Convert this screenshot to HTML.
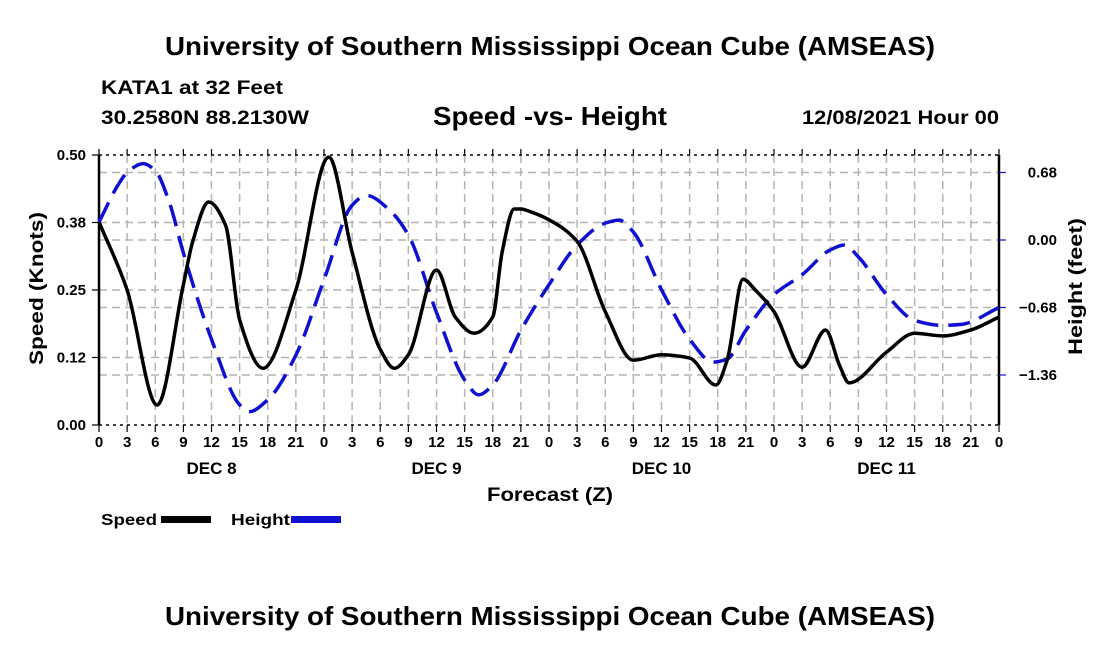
<!DOCTYPE html>
<html><head><meta charset="utf-8"><style>
body{margin:0;background:#fff;width:1100px;height:650px;overflow:hidden;font-family:"Liberation Sans",Arial,sans-serif}
svg text{font-family:"Liberation Sans",Arial,sans-serif;font-weight:bold;fill:#000}
</style></head><body>
<svg id="c" width="1100" height="650">
<text x="165" y="55" font-size="26" textLength="770" lengthAdjust="spacingAndGlyphs">University of Southern Mississippi Ocean Cube (AMSEAS)</text>
<text x="101" y="94" font-size="19" textLength="182" lengthAdjust="spacingAndGlyphs">KATA1 at 32 Feet</text>
<text x="101" y="124" font-size="19" textLength="208" lengthAdjust="spacingAndGlyphs">30.2580N  88.2130W</text>
<text x="433" y="125" font-size="26" textLength="234" lengthAdjust="spacingAndGlyphs">Speed -vs- Height</text>
<text x="802" y="124" font-size="19" textLength="197" lengthAdjust="spacingAndGlyphs">12/08/2021 Hour 00</text>
<text x="165" y="625" font-size="26" textLength="770" lengthAdjust="spacingAndGlyphs">University of Southern Mississippi Ocean Cube (AMSEAS)</text>
<text x="487" y="501" font-size="19" textLength="126" lengthAdjust="spacingAndGlyphs">Forecast (Z)</text>
<text transform="translate(43,365) rotate(-90)" font-size="19" textLength="153" lengthAdjust="spacingAndGlyphs">Speed (Knots)</text>
<text transform="translate(1082,355) rotate(-90)" font-size="19" textLength="137" lengthAdjust="spacingAndGlyphs">Height (feet)</text>
<g id="grid"></g><g id="axes"></g><g id="series"></g>
<text x="101" y="525" font-size="16" textLength="56" lengthAdjust="spacingAndGlyphs">Speed</text>
<rect x="161" y="516" width="50" height="7" fill="#000"/>
<text x="231" y="525" font-size="16" textLength="59" lengthAdjust="spacingAndGlyphs">Height</text>
<rect x="291" y="516" width="50" height="7" fill="#1010d0"/>
</svg>
<script>
const speedHours=[0,3,6.2,9,10,11.7,13.5,15,17.5,21,24.5,27,30,31.5,33,36,38,40,42,43,44.3,45,46,48,51,54,57,60,63,65.8,67,68.7,70,72,75,77.5,79,80,84,87,90,93,96];
const speedVals=[0.376,0.25,0.037,0.26,0.34,0.413,0.37,0.195,0.105,0.25,0.496,0.32,0.14,0.105,0.13,0.287,0.2,0.17,0.2,0.32,0.40,0.40,0.395,0.38,0.34,0.21,0.12,0.13,0.124,0.074,0.12,0.27,0.25,0.21,0.107,0.176,0.11,0.078,0.135,0.17,0.165,0.176,0.2];
const heightHours=[0,2,3,4.7,6,7.5,9,12,15,16,18,21,24,27,28.5,31,33,36,39,40.5,42,45,48,51,54,55.5,57,60,63,65.5,67,69,72,75,78,79.5,81,84,87,90,92,96];
const heightVals=[0.18,0.55,0.68,0.77,0.7,0.38,-0.13,-1.0,-1.66,-1.73,-1.61,-1.16,-0.4,0.35,0.45,0.3,0.05,-0.73,-1.41,-1.56,-1.46,-0.91,-0.45,-0.05,0.17,0.2,0.08,-0.5,-1.0,-1.23,-1.2,-0.91,-0.55,-0.35,-0.1,-0.05,-0.17,-0.55,-0.81,-0.86,-0.85,-0.68];
const xTickLabels=["0","3","6","9","12","15","18","21"];
const dayLabels=["DEC 8","DEC 9","DEC 10","DEC 11"];
const leftTicks=[0,0.125,0.25,0.375,0.5];
const leftTickLabels=["0.00","0.12","0.25","0.38","0.50"];
const rightTicks=[0.68,0,-0.68,-1.36];
const rightTickLabels=["0.68","0.00","\u22120.68","\u22121.36"];
const X0=99,X1=999,Y0=155,Y1=425;
const x=h=>X0+(X1-X0)*h/96;
const yS=v=>Y1-(Y1-Y0)*v/0.5;
const yH=v=>240-v*99.26;
const NS="http://www.w3.org/2000/svg";
function mk(p,t,a){const e=document.createElementNS(NS,t);for(const k in a)e.setAttribute(k,a[k]);p.appendChild(e);return e;}
const grid=document.getElementById('grid'),axes=document.getElementById('axes'),ser=document.getElementById('series');
for(let h=3;h<96;h+=3){const l=mk(grid,'line',{x1:x(h),x2:x(h),y1:Y0,y2:Y1,stroke:'#b4b4b4','stroke-width':1.5,'stroke-dasharray':'8,5'});

}
leftTicks.slice(1,4).forEach(v=>{const l=mk(grid,'line',{x1:X0,x2:X1,y1:yS(v),y2:yS(v),stroke:'#b4b4b4','stroke-width':1.5,'stroke-dasharray':'8,5'});

});
rightTicks.forEach(v=>{const l=mk(grid,'line',{x1:X0,x2:X1,y1:yH(v),y2:yH(v),stroke:'#b4b4b4','stroke-width':1.5,'stroke-dasharray':'8,5'});

});
let f=mk(axes,'line',{x1:X0,x2:X0,y1:Y0,y2:Y1,stroke:'#000','stroke-width':2.5});

f=mk(axes,'line',{x1:X1,x2:X1,y1:Y0,y2:Y1,stroke:'#000','stroke-width':2.5});

f=mk(axes,'line',{x1:X0,x2:X1,y1:Y0,y2:Y0,stroke:'#000','stroke-width':1.5,'stroke-dasharray':'3,4'});

f=mk(axes,'line',{x1:X0,x2:X1,y1:Y1,y2:Y1,stroke:'#000','stroke-width':1.5,'stroke-dasharray':'3,4'});

for(let h=0;h<=96;h+=3){
 mk(axes,'line',{x1:x(h),x2:x(h),y1:Y1,y2:Y1+7,stroke:'#000','stroke-width':1.2});
 mk(axes,'line',{x1:x(h),x2:x(h),y1:Y0,y2:Y0-6,stroke:'#000','stroke-width':1.2});
 const t=mk(axes,'text',{x:x(h),y:447,'font-size':15,'text-anchor':'middle'});
 t.textContent=xTickLabels[(h/3)%8];
 
 }
dayLabels.forEach((d,i)=>{const t=mk(axes,'text',{x:x(12+24*i),y:474,'font-size':17,'text-anchor':'middle'});t.textContent=d;

});
leftTicks.forEach((v,i)=>{mk(axes,'line',{x1:X0-7,x2:X0,y1:yS(v),y2:yS(v),stroke:'#000','stroke-width':1.2});
 const t=mk(axes,'text',{x:86,y:yS(v)+5,'font-size':15,'text-anchor':'end'});t.textContent=leftTickLabels[i];
 
 });
rightTicks.forEach((v,i)=>{mk(axes,'line',{x1:X1,x2:X1+7,y1:yH(v),y2:yH(v),stroke:'#1010d0','stroke-width':1.2});
 const t=mk(axes,'text',{x:1057,y:yH(v)+5,'font-size':15,'text-anchor':'end'});t.textContent=rightTickLabels[i];
 
 });
function smooth(px,py){const n=px.length,d=[],m=[];
 for(let i=0;i<n-1;i++)d.push((py[i+1]-py[i])/(px[i+1]-px[i]));
 m[0]=d[0];m[n-1]=d[n-2];
 for(let i=1;i<n-1;i++){if(d[i-1]*d[i]<=0)m[i]=0;else{const w1=2*(px[i+1]-px[i])+(px[i]-px[i-1]),w2=(px[i+1]-px[i])+2*(px[i]-px[i-1]);m[i]=(w1+w2)/(w1/d[i-1]+w2/d[i]);}}
 let s=`M${px[0]},${py[0]}`;
 for(let i=0;i<n-1;i++){const h=(px[i+1]-px[i])/3;s+=` C${px[i]+h},${py[i]+m[i]*h} ${px[i+1]-h},${py[i+1]-m[i+1]*h} ${px[i+1]},${py[i+1]}`;}
 return s;}
const hp=mk(ser,'path',{d:smooth(heightHours.map(x),heightVals.map(yH)),fill:'none',stroke:'#1010d0','stroke-width':3.5,'stroke-dasharray':'22,10'});


const sp=mk(ser,'path',{d:smooth(speedHours.map(x),speedVals.map(yS)),fill:'none',stroke:'#000','stroke-width':3.5,'stroke-linejoin':'round'});


</script>
</body></html>
